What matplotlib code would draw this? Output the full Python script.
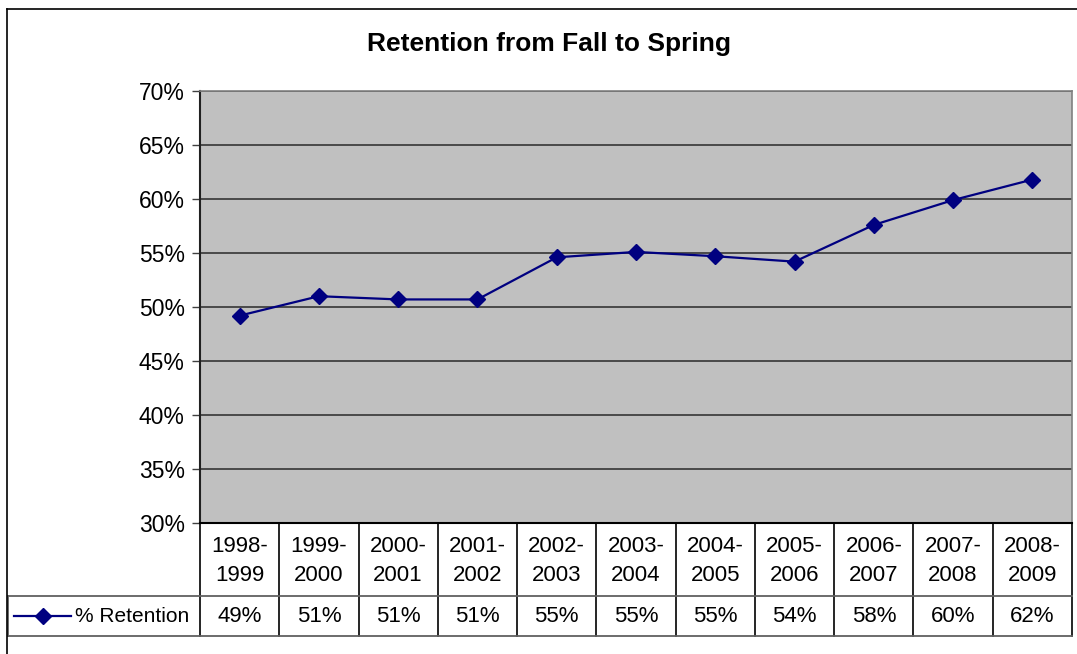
import numpy as np
import matplotlib
matplotlib.use('Agg')
import matplotlib.pyplot as plt
import matplotlib.transforms as mtrans
from matplotlib.ticker import FuncFormatter

plt.rcParams['font.family'] = ['Liberation Sans', 'DejaVu Sans']

years = ['1998-\n1999', '1999-\n2000', '2000-\n2001', '2001-\n2002', '2002-\n2003',
         '2003-\n2004', '2004-\n2005', '2005-\n2006', '2006-\n2007', '2007-\n2008',
         '2008-\n2009']
retention = [49.2, 51.0, 50.7, 50.7, 54.6, 55.1, 54.7, 54.2, 57.6, 59.9, 61.8]
series_name = '% Retention'

W, H = 1077, 654
fig = plt.figure(figsize=(W / 100, H / 100), dpi=100)

# outer chart border
fig.add_artist(plt.Line2D([7 / W, 7 / W], [0, 1 - 9 / H], color='black', lw=1.2))
fig.add_artist(plt.Line2D([7 / W, 1], [1 - 9 / H, 1 - 9 / H], color='black', lw=1.2))

x0, x1, ytop, ybot = 200, 1072, 91, 523
ax = fig.add_axes([x0 / W, 1 - ybot / H, (x1 - x0) / W, (ybot - ytop) / H])
ax.set_facecolor('#c0c0c0')

xs = np.arange(len(years))
ax.plot(xs, retention, color='#000080', lw=1.6, marker='D', ms=8, zorder=3)

ax.set_xlim(-0.5, len(years) - 0.5)
ax.set_ylim(30, 70)
ax.set_yticks(np.arange(30, 71, 5))
ax.yaxis.set_major_formatter(FuncFormatter(lambda v, p: '%d%%' % v))
ax.yaxis.grid(True, color='#404040', lw=1.3)
ax.set_axisbelow(True)
ax.set_xticks([])
ax.tick_params(axis='y', labelsize=16.5, length=6, width=1, color='#404040', pad=5)
for s in ['top', 'right']:
    ax.spines[s].set_color('#808080')
    ax.spines[s].set_linewidth(1.2)
ax.spines['left'].set_color('#202020')
ax.spines['left'].set_linewidth(1.5)
ax.spines['bottom'].set_color('black')
ax.spines['bottom'].set_linewidth(1.5)

fig.text(549 / W, 1 - 44 / H, 'Retention from Fall to Spring', fontsize=19,
         fontweight='bold', ha='center', va='center')

# data table below the axis
ph = ybot - ytop
r1 = -(596 - ybot) / ph
r2 = -(636 - ybot) / ph
tr = mtrans.blended_transform_factory(ax.transData, ax.transAxes)
for i in range(len(years) + 1):
    b = i - 0.5
    ax.plot([b, b], [0, r2], transform=tr, color='black', lw=1.2, clip_on=False)
left = -0.5 - (x0 - 8) / ((x1 - x0) / len(years))
for yy in [r1, r2]:
    ax.plot([left, len(years) - 0.5], [yy, yy], transform=tr, color='#606060', lw=1.3, clip_on=False)
ax.plot([left, left], [r1, r2], transform=tr, color='#606060', lw=1.3, clip_on=False)

for i, (lab, v) in enumerate(zip(years, retention)):
    ax.text(i, r1 / 2 - 0.003, lab, transform=tr, ha='center', va='center', fontsize=16,
            linespacing=1.5)
    ax.text(i, (r1 + r2) / 2, '%.0f%%' % v, transform=tr, ha='center', va='center', fontsize=16)

# legend key inside the table
lx0 = left + 0.08
lx1 = left + 0.8
ym = (r1 + r2) / 2
ax.plot([lx0, lx1], [ym, ym], transform=tr, color='#000080', lw=1.6, clip_on=False)
ax.plot([(lx0 + lx1) / 2], [ym], transform=tr, color='#000080', marker='D', ms=8, clip_on=False)
ax.text(lx1 + 0.05, ym, series_name, transform=tr, ha='left', va='center', fontsize=15)

plt.savefig('out.png', dpi=100)
